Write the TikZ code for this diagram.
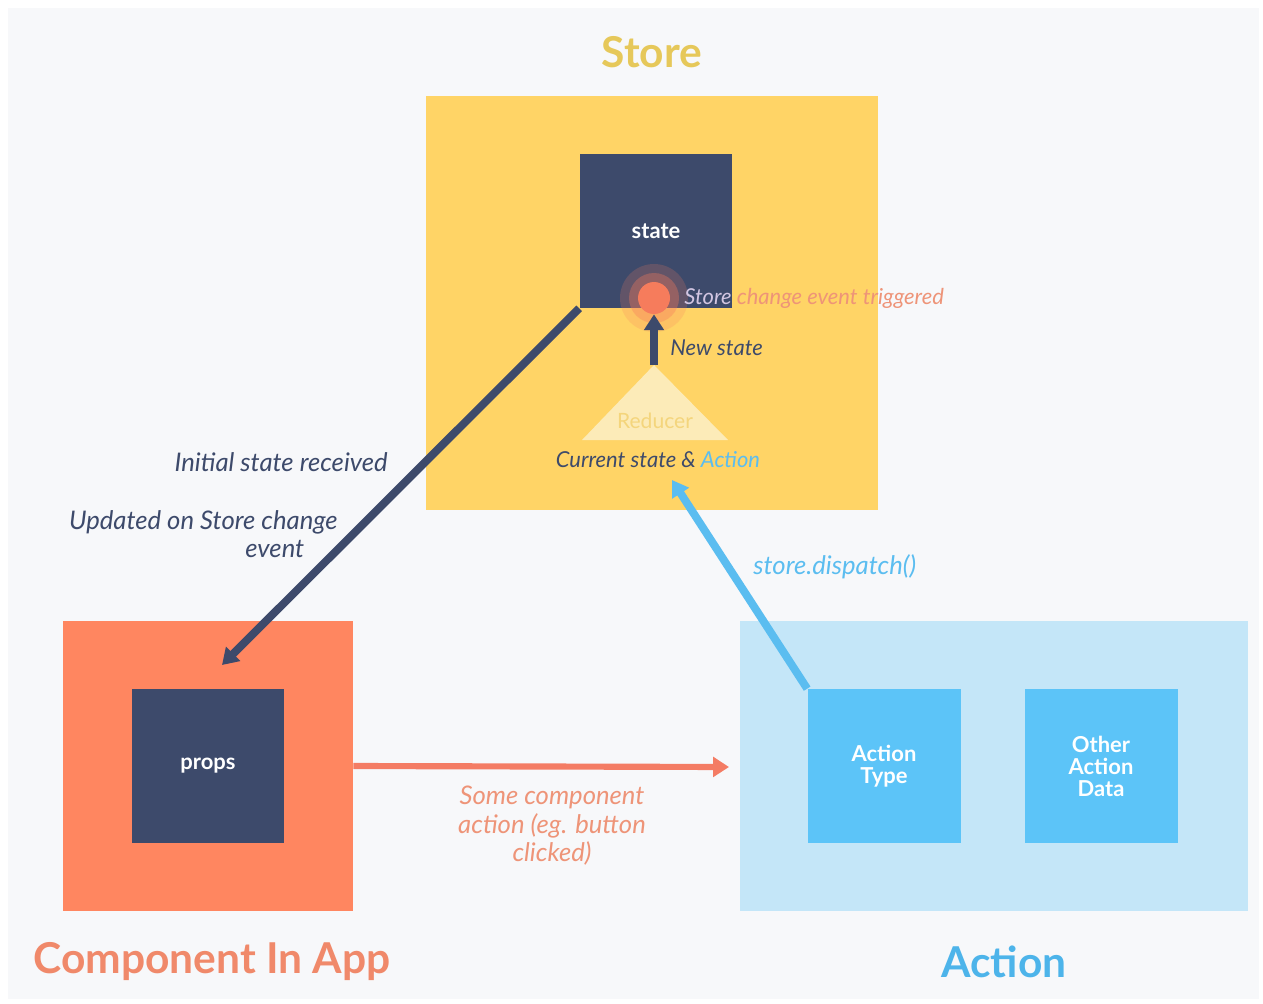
\documentclass[tikz,border=0pt]{standalone}
\usepackage{fontspec}
\setmainfont{Lato}
\usetikzlibrary{arrows.meta}

\definecolor{bggray}{HTML}{F7F8FA}
\definecolor{storeyellow}{HTML}{FFD466}
\definecolor{navy}{HTML}{3D4A6B}
\definecolor{compsalmon}{HTML}{FF8660}
\definecolor{salmontext}{HTML}{F0896A}
\definecolor{notesalmon}{HTML}{EE9478}
\definecolor{arrowsalmon}{HTML}{F47C64}
\definecolor{paleblue}{HTML}{C4E6F8}
\definecolor{skyblue}{HTML}{5CC4F8}
\definecolor{arrowblue}{HTML}{5BBDF0}
\definecolor{actiontitle}{HTML}{4DB4EA}
\definecolor{titlegold}{HTML}{E6C85A}
\definecolor{reducercream}{HTML}{FCEBB8}
\definecolor{reducertext}{HTML}{F4D57C}
\definecolor{glow}{HTML}{F67C5C}
\definecolor{lavender}{HTML}{D2C6E2}

\tikzset{
  box/.style={rectangle, inner sep=0pt, minimum width=3.06cm, minimum height=3.08cm,
    text=white, font=\bfseries\fontsize{12.5}{12.5}\selectfont, align=center},
  heading/.style={font=\bfseries\fontsize{24.2}{25}\selectfont},
  note/.style={font=\itshape\fontsize{12.5}{16}\selectfont, text=navy},
  bignote/.style={note, font=\itshape\fontsize{14.6}{16.2}\selectfont},
  flow/.style={line width=4.5pt, -{Triangle[length=9pt,width=11pt]}}
}

\begin{document}
\begin{tikzpicture}[x=0.02cm, y=-0.02cm]
	\useasboundingbox (0,0) rectangle (1263,1003);
	\fill [white] (0,0) rectangle (1263,1003);
	\fill [bggray] (8,8) rectangle (1259,999);

	% store
	\node [fill=storeyellow, inner sep=0pt, minimum width=9.04cm, minimum height=8.28cm] (store) at (652,303) {};
	\node [heading, text=titlegold] (storetitle) at (652,52) {Store};
	\node [box, fill=navy] (state) at (656,231) {state};
	\fill [reducercream] (654,365) -- (728,440) -- (582,440) -- cycle;
	\coordinate (apex) at (654,365);
	\node [text=reducertext, font=\fontsize{12}{12}\selectfont] (reducer) at (655,421) {Reducer};
	\fill [glow, opacity=0.2] (654,298) circle (34);
	\fill [glow, opacity=0.35] (654,298) circle (25);
	\node [circle, fill=glow, inner sep=0pt, minimum size=0.64cm] (event) at (654,298) {};
	\node [note, anchor=west, inner sep=0pt] (eventtext) at (684,298) {\color{lavender}Store \color{notesalmon}change event triggered};
	\node [note, anchor=west, inner sep=0pt] (newstate) at (670,348) {New state};
	\node [note, inner sep=0pt] (current) at (658,460) {Current state \& \textcolor{arrowblue}{Action}};
	\draw [flow, navy] (apex) -- (event.south);

	% component
	\node [fill=compsalmon, inner sep=0pt, minimum width=5.8cm, minimum height=5.8cm] (comp) at (208,766) {};
	\node [box, fill=navy] (props) at (208,766) {props};
	\node [heading, text=salmontext] (comptitle) at (212,962) {Component In App};
	\coordinate (propsin) at (222,665);
	\draw [flow, navy] (state.south west) -- (propsin);
	\node [bignote, anchor=east, inner sep=0pt] (initial) at (388,462) {Initial state received};
	\node [bignote, anchor=east, align=right, inner sep=0pt] (updated) at (338,534) {Updated on Store change\\event\hspace*{19pt}};

	% action
	\node [fill=paleblue, inner sep=0pt, minimum width=10.18cm, minimum height=5.8cm] (action) at (994,766) {};
	\node [box, fill=skyblue] (atype) at (884,766) {Action\\Type};
	\node [box, fill=skyblue] (adata) at (1101,766) {Other\\Action\\Data};
	\node [heading, text=actiontitle] (actiontitle) at (1004,962) {Action};
	\coordinate (dispin) at (672,480);
	\draw [flow, arrowblue] (atype.north west) -- (dispin);
	\node [bignote, text=arrowblue, anchor=west, inner sep=0pt] (dispatch) at (753,567) {store.dispatch()};

	% component to action
	\coordinate (actin) at (729,767);
	\draw [flow, arrowsalmon, line width=3.5pt] (comp.east) -- (actin);
	\node [bignote, text=notesalmon, align=center, inner sep=0pt] (someaction) at (552,826) {Some component\\action (eg. button\\clicked)};
\end{tikzpicture}
\end{document}
